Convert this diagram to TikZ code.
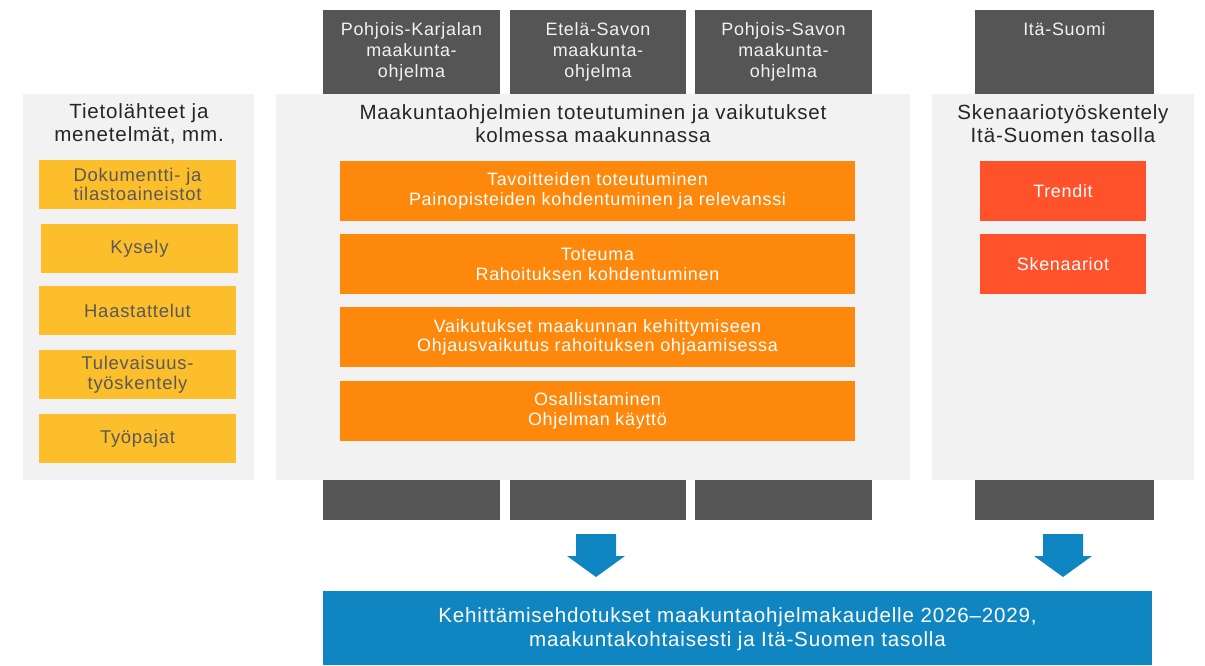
\documentclass[tikz,border=0pt]{standalone}
\usepackage{fontspec}
\setmainfont{Liberation Sans}[LetterSpace=4]
\usetikzlibrary{positioning}
\definecolor{colgray}{HTML}{555555}
\definecolor{panelgray}{HTML}{F2F2F2}
\definecolor{titlegray}{HTML}{262626}
\definecolor{srcyellow}{HTML}{FCBF2B}
\definecolor{srctext}{HTML}{595959}
\definecolor{themeorange}{HTML}{FD880B}
\definecolor{scenred}{HTML}{FF522B}
\definecolor{resultblue}{HTML}{0F86C2}
\begin{document}
\begin{tikzpicture}
[colbox/.style={fill=colgray,minimum height=10.2cm,inner sep=0pt},%
  coltext/.style={text=panelgray,align=center,inner sep=0pt,font=\fontsize{10.2}{11.9}\selectfont},%
  panel/.style={fill=panelgray,minimum height=7.72cm,inner sep=0pt},%
  paneltitle/.style={text=titlegray,align=center,inner sep=0pt,font=\fontsize{11.7}{13.2}\selectfont},%
  srcbox/.style={fill=srcyellow,text=srctext,align=center,minimum width=3.94cm,minimum height=0.98cm,inner sep=0pt,font=\fontsize{10.5}{11.2}\selectfont},%
  themebox/.style={fill=themeorange,text=white,align=center,minimum width=10.3cm,minimum height=1.2cm,inner sep=0pt,font=\fontsize{10.2}{11.2}\selectfont},%
  scenbox/.style={fill=scenred,text=white,align=center,minimum width=3.32cm,minimum height=1.2cm,inner sep=0pt,font=\fontsize{10.2}{11.2}\selectfont},%
  blockarrow/.style={fill=resultblue},%
  resultbox/.style={fill=resultblue,text=white,align=center,inner sep=0pt,font=\fontsize{11.7}{13.6}\selectfont}]
\useasboundingbox (0,0) rectangle (24.1,13.3);
%% columns of the three programmes and Ita-Suomi
\foreach \colname/\x/\w in {pk/8.23/3.54, es/11.96/3.52, ps/15.67/3.54, is/21.29/3.58} {
  \node (\colname) at (\x,8.0) [colbox,minimum width=\w cm] {};
}
\node (pktext) [coltext,below=0.25cm of pk.north] {Pohjois-Karjalan\\maakunta-\\ohjelma};
\node (estext) [coltext,below=0.25cm of es.north] {Etelä-Savon\\maakunta-\\ohjelma};
\node (pstext) [coltext,below=0.25cm of ps.north] {Pohjois-Savon\\maakunta-\\ohjelma};
\node (istext) [coltext,below=0.25cm of is.north] {Itä-Suomi};
%% panels
\node (srcpanel) at (2.77,7.56) [panel,minimum width=4.62cm] {};
\node (mainpanel) at (11.86,7.56) [panel,minimum width=12.68cm] {};
\node (scenpanel) at (21.26,7.56) [panel,minimum width=5.24cm] {};
\node (srctitle) at (2.78,10.82) [paneltitle] {Tietolähteet ja\\menetelmät, mm.};
\node (maintitle) at (11.86,10.82) [paneltitle] {Maakuntaohjelmien toteutuminen ja vaikutukset\\kolmessa maakunnassa};
\node (scentitle) at (21.26,10.82) [paneltitle] {Skenaariotyöskentely\\Itä-Suomen tasolla};
%% sources
\foreach \boxname/\x/\y/\txt in {
  doc/2.75/9.61/{Dokumentti- ja\\tilastoaineistot}, survey/2.79/8.33/{Kysely},
  interview/2.75/7.09/{Haastattelut}, future/2.75/5.81/{Tulevaisuus-\\työskentely},
  workshop/2.75/4.53/{Työpajat}} {
  \node (\boxname) at (\x,\y) [srcbox] {\txt};
}
%% themes
\foreach \boxname/\y/\txt in {
  goals/9.48/{Tavoitteiden toteutuminen\\Painopisteiden kohdentuminen ja relevanssi},
  funding/8.01/{Toteuma\\Rahoituksen kohdentuminen},
  impact/6.55/{Vaikutukset maakunnan kehittymiseen\\Ohjausvaikutus rahoituksen ohjaamisessa},
  usage/5.08/{Osallistaminen\\Ohjelman käyttö}} {
  \node (\boxname) at (11.95,\y) [themebox] {\txt};
}
\node (trends) at (21.26,9.48) [scenbox] {Trendit};
\node (scenarios) at (21.26,8.01) [scenbox] {Skenaariot};
%% arrows and result
\foreach \ax in {11.92,21.26} {
  \fill[blockarrow] (\ax-0.40,2.62) -- (\ax+0.40,2.62) -- (\ax+0.40,2.18) -- (\ax+0.58,2.18)
    -- (\ax,1.76) -- (\ax-0.58,2.18) -- (\ax-0.40,2.18) -- cycle;
}
\node (result) at (14.75,0.74) [resultbox,minimum width=16.58cm,minimum height=1.48cm] {};
\node (resulttext) at (14.75,0.72) [resultbox] {Kehittämisehdotukset maakuntaohjelmakaudelle 2026–2029,\\maakuntakohtaisesti ja Itä-Suomen tasolla};
\end{tikzpicture}
\end{document}
